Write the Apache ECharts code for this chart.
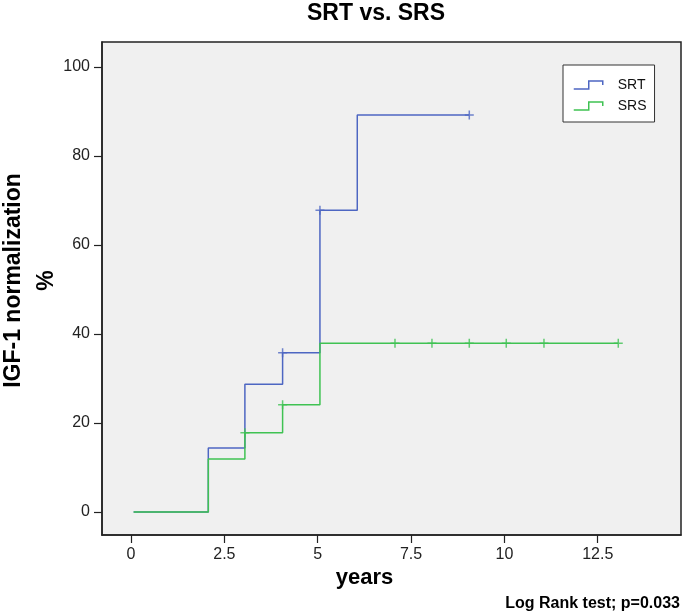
<!DOCTYPE html>
<html>
<head>
<meta charset="utf-8">
<style>html,body{margin:0;padding:0;background:#fff;}#c{width:685px;height:614px;}</style>
<script src="https://cdn.jsdelivr.net/npm/echarts@6/dist/echarts.min.js"></script>
</head>
<body>
<div id="c"></div>
<script>
// Kaplan-Meier style cumulative curves (years, %)
const srtTimes = [0.07, 2.07, 3.05, 4.06, 5.06, 6.06, 9.06];
const srtValues = [0, 14.4, 28.7, 35.8, 67.8, 89.2, 89.2];
const srtCensored = [4.06, 5.06, 9.06];

const srsTimes = [0.07, 2.07, 3.05, 4.06, 5.06, 13.05];
const srsValues = [0, 11.9, 17.8, 24.1, 37.9, 37.9];
const srsCensored = [3.05, 4.06, 7.07, 8.06, 9.06, 10.05, 11.06, 13.05];

const xTicks = [0, 2.5, 5, 7.5, 10, 12.5];
const yTicks = [0, 20, 40, 60, 80, 100];

const seriesNames = ['SRT', 'SRS'];
const titleText = 'SRT vs. SRS';
const noteText = 'Log Rank test; p=0.033';

const BLUE = '#4d66c2';
const GREEN = '#3fc252';
const FONT = 'Liberation Sans, Arial, sans-serif';

function stepValueAt(times, values, t) {
  let v = values[0];
  for (let i = 0; i < times.length; i++) { if (times[i] <= t + 1e-9) v = values[i]; }
  return v;
}
const pairs = (ts, vs) => ts.map((t, i) => [t, vs[i]]);
const censorPts = (cs, ts, vs) => cs.map(t => [t, stepValueAt(ts, vs, t)]);

const plusPath = 'path://M0,5L10,5M5,0L5,10';
const legendIcon = 'path://M0,8L15,8L15,0L29,0L29,4';

const chart = echarts.init(document.getElementById('c'), null, {renderer: 'canvas'});
chart.setOption({
  animation: false,
  backgroundColor: '#ffffff',
  textStyle: {fontFamily: FONT},
  title: [
    {text: titleText, left: 307, top: 2, padding: 0,
     textStyle: {fontFamily: FONT, fontSize: 23, fontWeight: 'bold', color: '#000'}},
    {text: noteText, right: 5, top: 596, padding: 0,
     textStyle: {fontFamily: FONT, fontSize: 16, fontWeight: 'bold', color: '#000'}}
  ],
  legend: {
    orient: 'vertical', left: 563, top: 65,
    backgroundColor: '#ffffff', borderColor: '#333', borderWidth: 1,
    padding: [13, 8, 9, 10], itemGap: 7,
    itemWidth: 29, itemHeight: 8,
    textStyle: {fontFamily: FONT, fontSize: 14, color: '#111', padding: [0, 0, 0, 10]},
    data: [
      {name: seriesNames[0], icon: legendIcon, itemStyle: {color: 'transparent', borderColor: BLUE, borderWidth: 1.5}},
      {name: seriesNames[1], icon: legendIcon, itemStyle: {color: 'transparent', borderColor: GREEN, borderWidth: 1.5}}
    ]
  },
  grid: {left: 102, top: 42, right: 4, bottom: 79, show: true, containLabel: false, outerBoundsMode: 'none',
         backgroundColor: '#f0f0f0', borderColor: '#222', borderWidth: 1.5},
  xAxis: {
    type: 'value', min: -0.777, max: 14.73,
    name: 'years', nameLocation: 'middle', nameGap: 32, nameMoveOverlap: false,
    nameTextStyle: {fontFamily: FONT, fontSize: 22, fontWeight: 'bold', color: '#000', padding: [0, 54, 0, 0]},
    axisLine: {show: true, onZero: false, lineStyle: {color: '#222', width: 1.5}},
    axisTick: {show: true, length: 8, lineStyle: {color: '#222', width: 1.2}, customValues: xTicks},
    axisLabel: {fontFamily: FONT, fontSize: 16, color: '#222', margin: 12, customValues: xTicks},
    splitLine: {show: false}
  },
  yAxis: {
    type: 'value', min: -5.17, max: 105.6,
    name: 'IGF-1 normalization\n%', nameLocation: 'middle', nameGap: 39, nameMoveOverlap: false,
    nameTextStyle: {fontFamily: FONT, fontSize: 23, fontWeight: 'bold', color: '#000', lineHeight: 33, padding: [0, 0, 0, 16]},
    axisLine: {show: true, onZero: false, lineStyle: {color: '#222', width: 1.5}},
    axisTick: {show: true, length: 8, lineStyle: {color: '#222', width: 1.2}, customValues: yTicks},
    axisLabel: {fontFamily: FONT, fontSize: 16, color: '#222', margin: 12, customValues: yTicks},
    splitLine: {show: false}
  },
  series: [
    {name: seriesNames[0], type: 'line', step: 'end', symbol: 'none', color: BLUE,
     lineStyle: {color: BLUE, width: 1.5}, data: pairs(srtTimes, srtValues), z: 2},
    {name: seriesNames[0] + ' censored', type: 'scatter', symbol: plusPath, symbolSize: 9,
     itemStyle: {color: 'transparent', borderColor: BLUE, borderWidth: 1.5},
     data: censorPts(srtCensored, srtTimes, srtValues), z: 3},
    {name: seriesNames[1], type: 'line', step: 'end', symbol: 'none', color: GREEN,
     lineStyle: {color: GREEN, width: 1.5}, data: pairs(srsTimes, srsValues), z: 4},
    {name: seriesNames[1] + ' censored', type: 'scatter', symbol: plusPath, symbolSize: 9,
     itemStyle: {color: 'transparent', borderColor: GREEN, borderWidth: 1.5},
     data: censorPts(srsCensored, srsTimes, srsValues), z: 5}
  ]
});
</script>
</body>
</html>
